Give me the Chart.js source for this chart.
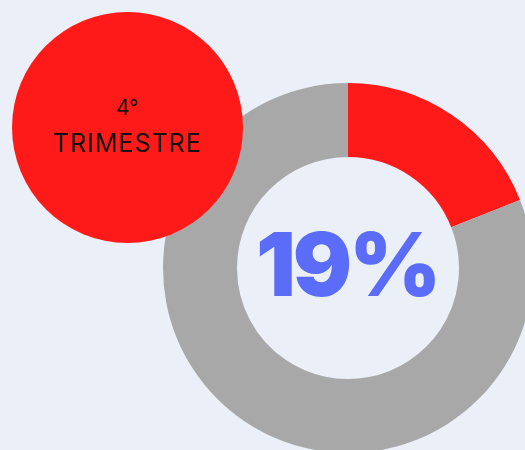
<!DOCTYPE html>
<html lang="pt">
<head>
    <meta charset="UTF-8">
    <title>4º Trimestre</title>
    <script src="https://cdn.jsdelivr.net/npm/chart.js@4.4.0/dist/chart.umd.min.js"></script>
    <style>
        html, body {
            margin: 0;
            padding: 0;
            width: 525px;
            height: 450px;
            overflow: hidden;
            background-color: #ebf0f8;
            font-family: Inter, "Open Sans", sans-serif;
        }
        .chart-box {
            position: absolute;
            left: 163px;
            top: 83px;
            width: 370px;
            height: 370px;
        }
        .badge {
            position: absolute;
            left: 12px;
            top: 12px;
            width: 231px;
            height: 231px;
            border-radius: 50%;
            background-color: #ff1a1a;
            color: #111;
            text-align: center;
        }
        .badge .num {
            position: absolute;
            width: 100%;
            top: 83px;
            font-size: 21px;
            font-weight: 400;
        }
        .badge .label {
            position: absolute;
            width: 100%;
            top: 116px;
            font-size: 25px;
            font-weight: 400;
            letter-spacing: 1px;
        }
    </style>
</head>
<body>
    <div class="chart-box">
        <canvas id="donut"></canvas>
    </div>
    <div class="badge">
        <div class="num">4°</div>
        <div class="label">TRIMESTRE</div>
    </div>

    <script>
        const labels = ['4º trimestre', 'Restante'];
        const values = [19, 81];
        const colors = ['#ff1a1a', '#a8a8a8'];
        const centerText = '19%';

        // big percentage in the hole of the doughnut
        const centerLabel = {
            id: 'centerLabel',
            afterDraw(chart) {
                const { ctx, chartArea } = chart;
                const x = (chartArea.left + chartArea.right) / 2;
                const y = (chartArea.top + chartArea.bottom) / 2;
                ctx.save();
                ctx.fillStyle = '#5b6cf9';
                ctx.font = '900 88px Inter, sans-serif';
                ctx.letterSpacing = '-3px';
                ctx.textAlign = 'center';
                ctx.textBaseline = 'middle';
                ctx.fillText(centerText, x - 1, y + 2);
                ctx.restore();
            }
        };

        new Chart(document.getElementById('donut'), {
            type: 'doughnut',
            data: {
                labels: labels,
                datasets: [{
                    data: values,
                    backgroundColor: colors,
                    borderWidth: 0
                }]
            },
            options: {
                responsive: true,
                maintainAspectRatio: false,
                animation: false,
                cutout: '60%',
                layout: { padding: 0 },
                plugins: {
                    legend: { display: false },
                    tooltip: { enabled: false }
                }
            },
            plugins: [centerLabel]
        });
    </script>
</body>
</html>
